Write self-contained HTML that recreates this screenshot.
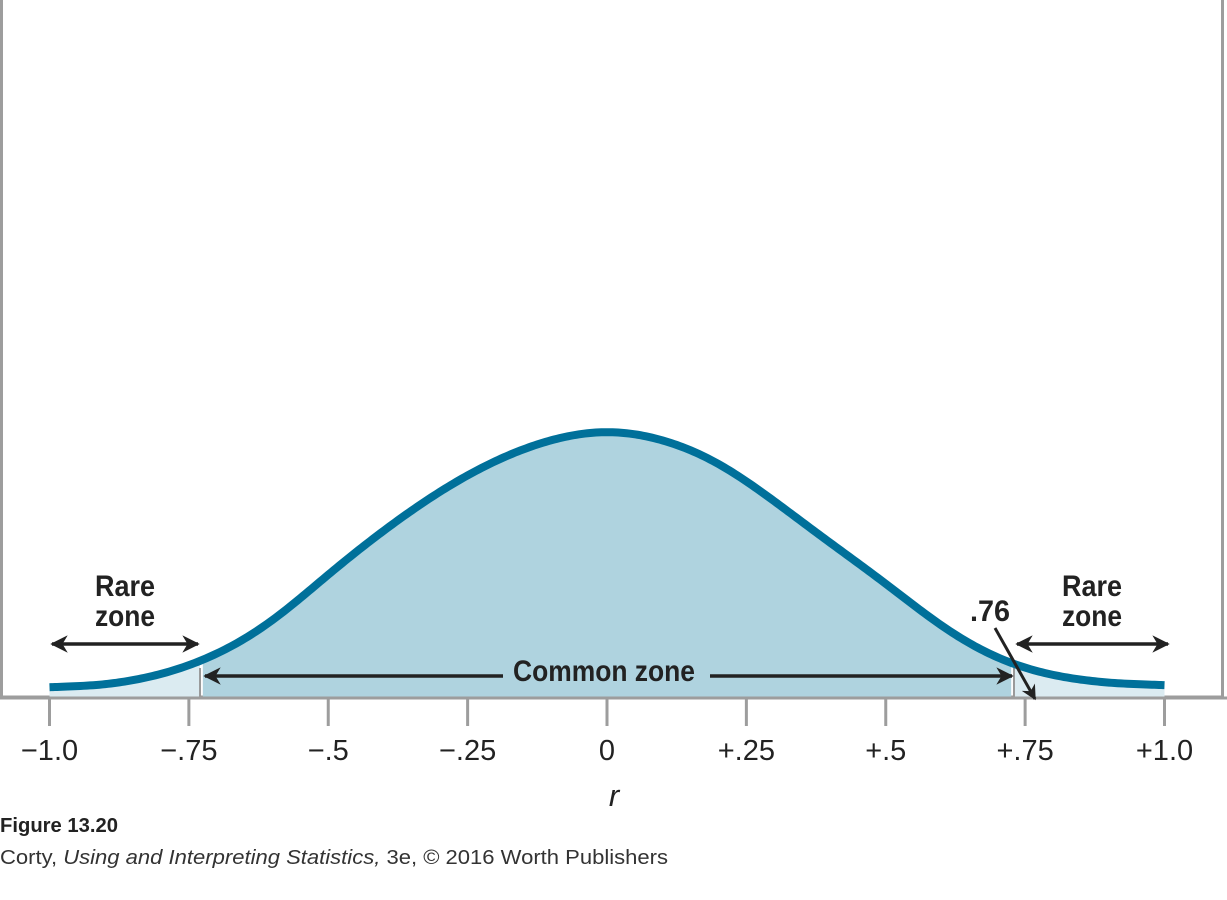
<!DOCTYPE html>
<html><head><meta charset="utf-8"><style>
body{margin:0;background:#fff;width:1227px;height:900px;overflow:hidden;font-family:"Liberation Sans",sans-serif}
svg{display:block}
.tick{font-size:29px;fill:#222;text-anchor:middle}
.lab{font-family:"Liberation Sans Narrow","Liberation Sans",sans-serif;font-weight:bold;font-size:30px;fill:#222;text-anchor:middle}
</style></head><body>
<svg width="1227" height="900">
<defs><marker id="ah" viewBox="0 0 10 10" refX="9" refY="5" markerWidth="5" markerHeight="5" orient="auto-start-reverse"><path d="M0,0 L10,5 L0,10 L3,5 Z" fill="#222"/></marker></defs>
<rect x="1.5" y="-3" width="1221" height="700" fill="none" stroke="#9d9d9d" stroke-width="3"/>
<g id="plot"></g>
<text x="125" y="596" class="lab" textLength="60" lengthAdjust="spacingAndGlyphs">Rare</text>
<text x="125" y="626" class="lab" textLength="60" lengthAdjust="spacingAndGlyphs">zone</text>
<text x="1092" y="596" class="lab" textLength="60" lengthAdjust="spacingAndGlyphs">Rare</text>
<text x="1092" y="626" class="lab" textLength="60" lengthAdjust="spacingAndGlyphs">zone</text>
<line x1="52" y1="644" x2="198" y2="644" stroke="#222" stroke-width="3.5" marker-start="url(#ah)" marker-end="url(#ah)"/>
<line x1="1017" y1="644" x2="1168" y2="644" stroke="#222" stroke-width="3.5" marker-start="url(#ah)" marker-end="url(#ah)"/>
<line x1="205" y1="676" x2="503" y2="676" stroke="#222" stroke-width="3.5" marker-start="url(#ah)"/>
<line x1="710" y1="676" x2="1012" y2="676" stroke="#222" stroke-width="3.5" marker-end="url(#ah)"/>
<text x="604" y="681" class="lab" textLength="182" lengthAdjust="spacingAndGlyphs">Common zone</text>
<text x="990" y="621" class="lab" textLength="40" lengthAdjust="spacingAndGlyphs">.76</text>
<line x1="995" y1="628" x2="1035" y2="699" stroke="#222" stroke-width="3" marker-end="url(#ah)"/>
<text x="614" y="806" font-size="31" font-style="italic" fill="#222" text-anchor="middle">r</text>
<text x="0" y="832" font-family="Liberation Sans,sans-serif" font-weight="bold" font-size="20" fill="#222" textLength="118" lengthAdjust="spacingAndGlyphs">Figure 13.20</text>
<text x="0" y="864" font-family="Liberation Sans,sans-serif" font-size="20" fill="#333" textLength="668" lengthAdjust="spacingAndGlyphs">Corty, <tspan font-style="italic">Using and Interpreting Statistics,</tspan> 3e, © 2016 Worth Publishers</text>
</svg>
<script>
const rValues=[-1,-0.9,-0.8,-0.7,-0.6,-0.5,-0.4,-0.3,-0.2,-0.1,0,0.1,0.2,0.3,0.4,0.5,0.6,0.7,0.8,0.9,1];
const density=[0,3,13,33,66,114,158,197,228,249,258,249,226,187,145,105,61,29,12,5,2];
const tickValues=[-1,-0.75,-0.5,-0.25,0,0.25,0.5,0.75,1];
const tickLabels=["\u22121.0","\u2212.75","\u2212.5","\u2212.25","0","+.25","+.5","+.75","+1.0"];
const cutoff=0.73;
const X=v=>607+557.5*v, Y=d=>688-d, AXY=698;
const NS="http://www.w3.org/2000/svg", g=document.getElementById('plot');
function mk(t,a){const e=document.createElementNS(NS,t);for(const k in a)e.setAttribute(k,a[k]);g.appendChild(e);return e;}
let raw=[];
for(let i=0;i<rValues.length-1;i++){
 const p0=i?i-1:i,p3=i+2<rValues.length?i+2:i+1;
 for(let s=0;s<20;s++){const t=s/20,t2=t*t,t3=t2*t;
  const f=(a,b,c,d)=>0.5*(2*b+(-a+c)*t+(2*a-5*b+4*c-d)*t2+(-a+3*b-3*c+d)*t3);
  raw.push([f(X(rValues[p0]),X(rValues[i]),X(rValues[i+1]),X(rValues[p3])),f(Y(density[p0]),Y(density[i]),Y(density[i+1]),Y(density[p3]))]);}
}
raw.push([X(rValues[rValues.length-1]),Y(density[density.length-1])]);
// gaussian smoothing of the rendered polyline (display only)
const pts=raw.map((p,i)=>{let sw=0,sy=0;for(let k=-24;k<=24;k++){const j=i+k;if(j<0||j>=raw.length)continue;const w=Math.exp(-k*k/(2*100));sw+=w;sy+=w*raw[j][1];}return [p[0],sy/sw];});
function area(x0,x1,fill,name){
 const sel=pts.filter(p=>p[0]>=x0&&p[0]<=x1);
 let d=`M${sel[0][0]},${AXY} `+sel.map(p=>`L${p[0]},${p[1]}`).join(' ')+` L${sel[sel.length-1][0]},${AXY} Z`;
 const e=mk('path',{d:d,fill:fill});
 
 
}
area(X(-1),X(-cutoff),'#dbebf1','rare-region-left');
area(X(-cutoff),X(cutoff),'#afd3df','common-region');
area(X(cutoff),X(1),'#dbebf1','rare-region-right');
[-cutoff,cutoff].forEach(c=>{const l=mk('line',{x1:X(c),x2:X(c),y1:Y(0)-20,y2:AXY,stroke:'#999','stroke-width':2});
 
 });
const cv=mk('path',{d:'M'+pts.map(p=>p[0]+','+p[1]).join(' L'),fill:'none',stroke:'#00709a','stroke-width':8,'stroke-linejoin':'round'});


const ax=mk('line',{x1:0,x2:1227,y1:AXY,y2:AXY,stroke:'#9d9d9d','stroke-width':3});


tickValues.forEach((v,i)=>{
 const t=mk('line',{x1:X(v),x2:X(v),y1:AXY,y2:AXY+28,stroke:'#9d9d9d','stroke-width':3});
 
 
 const tx=mk('text',{x:X(v),y:760,class:'tick'});tx.textContent=tickLabels[i];
 
 
});
</script>
</body></html>
